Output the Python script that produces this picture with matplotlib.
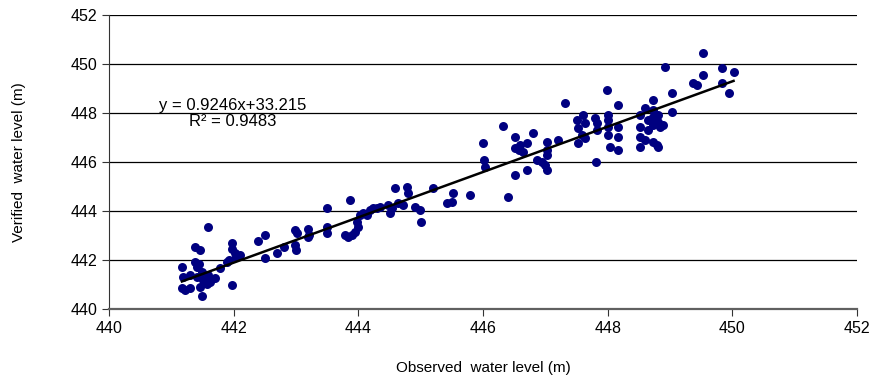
import numpy as np
import matplotlib.pyplot as plt

plt.rcParams['font.family'] = ['Liberation Sans', 'DejaVu Sans']

# observed vs verified water level (m)
obs = [441.17, 441.19, 441.17, 441.22, 441.30, 441.30,
       441.38, 441.41, 441.44, 441.49, 441.41, 441.51, 441.46, 441.57, 441.62, 441.70, 441.49, 441.54, 441.59,
       441.38, 441.46, 441.59,
       441.78, 441.89, 441.93,
       441.97, 441.97, 442.02, 442.10, 441.97, 442.03,
       442.39, 442.50, 442.50, 442.70, 442.81,
       442.99, 443.02, 442.99, 443.00,
       443.19, 443.21, 443.19,
       443.50, 443.50, 443.50,
       443.87, 443.79, 443.84, 443.90, 443.95, 444.00, 443.98, 444.03, 444.08, 444.14, 444.19, 444.24,
       444.30, 444.35, 444.48, 444.51, 444.54,
       444.59, 444.78, 444.80, 444.64, 444.72, 444.91, 444.99, 445.00, 445.20, 445.43, 445.51, 445.52, 445.79,
       446.00, 446.02, 446.04, 446.32, 446.40, 446.52, 446.52, 446.52, 446.57, 446.60, 446.65, 446.71, 446.71,
       446.81, 446.87, 446.95, 447.00, 447.03, 447.03, 447.03, 447.03, 447.21,
       447.32, 447.51, 447.53, 447.53, 447.61, 447.64, 447.64, 447.59, 447.80, 447.83, 447.83, 447.82,
       447.99, 448.01, 448.01, 448.01, 448.01, 448.04, 448.17, 448.17, 448.17, 448.17,
       448.52, 448.52, 448.52, 448.52, 448.60, 448.64, 448.64, 448.60, 448.72, 448.73, 448.72, 448.72,
       448.73, 448.80, 448.81, 448.81, 448.81, 448.84, 448.89, 448.92, 449.04, 449.04,
       449.37, 449.44, 449.53, 449.53, 449.84, 449.84, 449.94, 450.02]
ver = [441.71, 441.31, 440.86, 440.78, 440.86, 441.39,
       441.92, 441.71, 441.85, 441.51, 441.31, 441.18, 440.90, 441.00, 441.10, 441.27, 440.51, 441.06, 441.40,
       442.53, 442.41, 443.33,
       441.67, 441.92, 442.00,
       442.69, 442.45, 442.29, 442.20, 440.98, 442.10,
       442.78, 443.02, 442.08, 442.29, 442.53,
       443.22, 443.10, 442.61, 442.41,
       443.25, 443.02, 442.94,
       444.12, 443.35, 443.10,
       444.43, 443.02, 442.94, 443.02, 443.14, 443.35, 443.55, 443.84, 443.92, 443.84, 444.04, 444.12,
       444.12, 444.16, 444.24, 443.92, 444.10,
       444.94, 444.98, 444.73, 444.33, 444.24, 444.16, 444.04, 443.55, 444.94, 444.33, 444.37, 444.73, 444.65,
       446.78, 446.08, 445.80, 447.47, 444.57, 447.02, 446.57, 445.47, 446.49, 446.69, 446.41, 446.78, 445.67,
       447.18, 446.08, 446.00, 445.88, 445.67, 446.82, 446.49, 446.29, 446.90,
       448.41, 447.71, 447.39, 446.78, 447.92, 447.59, 446.98, 447.10, 447.80, 447.59, 447.31, 446.00,
       448.94, 447.92, 447.71, 447.43, 447.10, 446.61, 448.33, 447.43, 447.02, 446.49,
       447.92, 447.43, 447.02, 446.61, 448.20, 447.71, 447.31, 446.90, 448.53, 448.12, 447.84, 447.51,
       446.82, 446.69, 446.61, 447.92, 447.63, 447.43, 447.51, 449.88, 448.82, 448.04,
       449.22, 449.14, 450.45, 449.55, 449.84, 449.22, 448.82, 449.67]

slope = 0.9246
intercept = 33.215
r2 = 0.9483

ticks = np.arange(440, 453, 2)

fig = plt.figure(figsize=(8.74, 3.80), dpi=100)
ax = fig.add_axes([0.1247, 0.187, 0.8558, 0.774])

ax.scatter(obs, ver, s=42, color='#000080', zorder=3, linewidths=0)

# linear trend line
xl = np.array([min(obs), max(obs)])
ax.plot(xl, slope * xl + intercept, color='black', lw=1.8, zorder=4)

ax.text(441.98, 448.0, "y = %.4fx+%.3f" % (slope, intercept), ha='center', va='bottom', fontsize=12)
ax.text(441.98, 447.95, "R² = %.4f" % r2, ha='center', va='top', fontsize=12)

ax.set_xlim(440, 452)
ax.set_ylim(440, 452)
ax.set_xticks(ticks)
ax.set_yticks(ticks)
ax.yaxis.grid(True, color='black', lw=0.9)
ax.set_axisbelow(True)

ax.spines['top'].set_visible(False)
ax.spines['right'].set_visible(False)
ax.spines['left'].set_color('#333333')
ax.spines['bottom'].set_color('#606060')
ax.spines['bottom'].set_linewidth(1.6)
ax.tick_params(direction='out', length=5, labelsize=11.5, colors='#333333', labelcolor='black')

ax.set_xlabel("Observed  water level (m)", fontsize=11, labelpad=18)
ax.set_ylabel("Verified  water level (m)", fontsize=11, labelpad=32)

fig.savefig("out.png", dpi=100)
